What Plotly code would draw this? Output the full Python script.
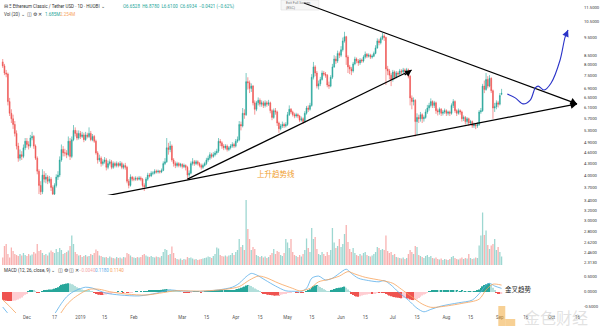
import math
import pandas as pd
import plotly.graph_objects as go

# ---------------- ETC/USDT daily, HUOBI ----------------
START = "2018-11-17"

open_ = [
    8.15,7.95,7.60,7.55,6.35,5.90,5.70,5.50,5.20,4.80,
    4.45,4.55,4.50,4.75,4.95,4.85,4.80,5.05,5.10,4.80,
    4.45,4.10,3.75,3.60,4.00,3.90,3.95,3.85,3.90,3.70,
    3.55,3.75,3.95,4.00,4.40,4.70,4.60,4.60,4.55,4.95,
    4.50,5.00,5.30,5.20,5.05,5.20,5.10,5.15,5.00,5.15,
    5.10,5.20,5.00,5.10,4.95,4.60,4.40,4.45,4.30,4.35,
    4.40,4.20,4.30,4.35,4.20,4.30,4.25,4.30,4.25,4.30,
    4.20,4.25,4.20,3.85,3.75,3.95,3.90,3.90,3.92,3.90,
    3.93,3.90,3.75,3.72,3.90,4.00,3.98,4.05,4.05,4.10,
    4.08,4.10,4.08,4.12,4.30,4.35,4.75,4.70,4.80,4.40,
    4.30,4.25,4.30,4.25,4.28,4.22,4.25,4.20,4.00,4.05,
    4.30,4.35,4.30,4.35,4.30,4.25,4.20,4.25,4.30,4.40,
    4.45,4.55,4.50,4.55,4.60,4.65,4.95,4.90,4.80,4.75,
    4.80,4.70,4.75,4.80,4.85,4.80,4.95,5.00,5.50,5.45,
    5.90,5.85,7.20,7.15,6.90,7.00,6.30,6.05,6.30,6.40,
    6.25,6.30,6.20,6.30,6.25,6.30,6.00,5.75,6.00,5.95,
    5.55,5.35,5.45,5.50,5.45,5.50,5.85,6.05,5.95,5.85,
    5.80,5.85,5.80,5.65,5.70,5.60,5.90,6.10,6.05,6.20,
    7.40,7.90,7.60,7.00,7.10,7.30,7.60,7.55,7.50,7.05,
    7.00,7.40,7.90,8.30,8.20,8.60,8.50,8.80,9.30,9.55,
    8.40,7.90,7.80,7.70,8.05,8.30,8.20,8.10,8.25,8.20,
    8.40,8.55,8.45,8.50,8.40,8.45,8.60,8.90,9.30,9.20,
    9.45,9.60,9.50,7.80,7.70,7.50,7.30,7.65,7.40,7.60,
    7.55,7.70,7.65,7.75,7.70,7.75,7.45,6.50,6.35,6.40,
    5.60,5.75,5.70,5.85,5.70,5.75,5.95,6.10,6.20,6.35,
    6.20,6.30,6.00,5.95,6.05,5.90,5.95,6.00,5.90,5.95,
    5.90,6.20,6.35,6.00,5.90,6.00,5.95,5.70,5.75,5.60,
    5.70,5.55,5.60,5.45,5.50,5.45,5.50,5.95,6.00,7.00,
    6.85,7.30,7.00,7.35,6.80,6.10,6.15,6.30,6.25,6.65,
]
high = [
    8.30,8.05,7.75,7.62,6.50,6.05,5.85,5.62,5.30,4.90,
    4.70,4.65,4.85,5.05,5.05,4.95,5.15,5.25,5.15,4.85,
    4.50,4.15,3.85,4.15,4.10,4.05,4.00,3.98,3.95,3.75,
    3.80,4.02,4.10,4.50,4.85,4.80,4.72,4.68,5.10,5.05,
    5.10,5.48,5.40,5.30,5.30,5.28,5.25,5.22,5.25,5.22,
    5.40,5.28,5.18,5.15,5.00,4.65,4.55,4.50,4.42,4.48,
    4.45,4.38,4.42,4.40,4.36,4.35,4.36,4.34,4.37,4.35,
    4.30,4.32,4.24,3.90,4.02,3.98,3.96,3.97,3.96,3.98,
    3.97,3.93,3.80,3.95,4.06,4.05,4.10,4.10,4.15,4.14,
    4.14,4.13,4.17,4.36,4.45,5.05,4.90,4.95,4.85,4.45,
    4.36,4.35,4.34,4.32,4.31,4.30,4.28,4.24,4.12,4.36,
    4.45,4.40,4.40,4.39,4.34,4.30,4.30,4.35,4.46,4.52,
    4.62,4.60,4.62,4.66,4.72,5.05,5.02,4.95,4.86,4.86,
    4.85,4.80,4.86,4.92,4.90,5.02,5.10,5.62,5.60,6.10,
    6.05,7.60,7.40,7.25,7.12,7.05,6.40,6.38,6.52,6.48,
    6.40,6.38,6.40,6.38,6.42,6.35,6.05,6.08,6.10,6.00,
    5.60,5.52,5.60,5.56,5.58,5.95,6.20,6.10,6.00,5.92,
    5.92,5.90,5.84,5.78,5.75,5.98,6.18,6.20,6.30,7.55,
    8.15,7.98,7.70,7.25,7.42,7.72,7.70,7.65,7.55,7.20,
    7.50,8.05,8.50,8.45,8.75,8.70,9.00,9.50,9.85,9.60,
    8.50,8.00,7.90,8.15,8.42,8.38,8.30,8.35,8.32,8.50,
    8.70,8.62,8.60,8.58,8.55,8.70,9.05,9.45,9.42,9.55,
    9.78,9.70,9.55,7.95,7.80,7.60,7.75,7.72,7.70,7.68,
    7.80,7.78,7.85,7.82,7.85,7.82,7.50,6.60,6.52,6.45,
    5.90,5.85,5.95,5.90,5.82,6.05,6.22,6.30,6.48,6.40,
    6.38,6.35,6.08,6.12,6.10,6.02,6.08,6.05,6.00,6.00,
    6.28,6.45,6.40,6.05,6.08,6.05,6.00,5.82,5.80,5.76,
    5.74,5.66,5.64,5.56,5.55,5.58,6.02,6.10,7.10,7.25,
    7.60,7.45,7.50,7.40,6.85,6.30,6.40,6.38,6.70,6.88,
]
low = [
    7.85,7.50,7.40,6.20,5.80,5.55,5.35,5.10,4.70,4.35,
    4.38,4.40,4.45,4.68,4.75,4.70,4.75,4.98,4.72,4.40,
    4.02,3.55,3.42,3.55,3.82,3.80,3.78,3.80,3.62,3.48,
    3.50,3.70,3.88,3.95,4.35,4.50,4.50,4.45,4.50,4.40,
    4.45,4.95,5.10,4.98,5.00,5.02,5.05,4.92,4.96,5.04,
    5.05,4.95,4.95,4.90,4.55,4.30,4.35,4.22,4.25,4.30,
    4.12,4.15,4.25,4.15,4.16,4.20,4.20,4.20,4.22,4.15,
    4.15,4.14,3.80,3.68,3.72,3.85,3.85,3.86,3.86,3.87,
    3.85,3.70,3.62,3.70,3.86,3.94,3.95,4.00,4.02,4.04,
    4.04,4.04,4.05,4.10,4.26,4.32,4.55,4.62,4.35,4.22,
    4.18,4.20,4.20,4.20,4.17,4.18,4.12,3.90,3.95,4.02,
    4.25,4.24,4.26,4.25,4.20,4.14,4.16,4.22,4.26,4.35,
    4.40,4.44,4.46,4.50,4.55,4.60,4.80,4.72,4.68,4.70,
    4.64,4.65,4.70,4.75,4.74,4.76,4.90,4.95,5.30,5.40,
    5.70,5.80,6.85,6.70,6.75,6.20,5.85,5.98,6.20,6.15,
    6.15,6.10,6.12,6.15,6.18,5.90,5.65,5.70,5.85,5.45,
    5.22,5.30,5.38,5.38,5.40,5.45,5.80,5.88,5.78,5.72,
    5.74,5.72,5.58,5.60,5.52,5.55,5.85,5.95,6.00,6.15,
    7.30,7.45,6.90,6.85,7.00,7.25,7.45,7.38,6.95,6.88,
    6.95,7.32,7.85,8.05,8.10,8.35,8.40,8.70,9.20,8.00,
    7.60,7.55,7.50,7.62,7.98,8.08,7.95,8.00,8.10,8.12,
    8.32,8.35,8.38,8.30,8.32,8.40,8.55,8.85,9.05,9.10,
    9.35,9.30,7.05,7.50,7.30,7.00,7.20,7.30,7.35,7.45,
    7.50,7.55,7.58,7.60,7.62,7.35,6.20,6.05,6.20,5.10,
    5.15,5.55,5.60,5.55,5.60,5.70,5.88,6.00,6.12,6.10,
    6.10,5.88,5.82,5.85,5.80,5.82,5.88,5.80,5.82,5.80,
    5.85,6.10,5.92,5.80,5.85,5.85,5.60,5.62,5.50,5.52,
    5.45,5.48,5.38,5.38,5.34,5.38,5.45,5.88,5.95,6.70,
    6.80,6.90,6.95,6.70,5.70,5.95,6.05,6.12,6.20,6.61,
]
close = [
    7.95,7.60,7.55,6.35,5.90,5.70,5.50,5.20,4.80,4.45,
    4.55,4.50,4.75,4.95,4.85,4.80,5.05,5.10,4.80,4.45,
    4.10,3.75,3.60,4.00,3.90,3.95,3.85,3.90,3.70,3.55,
    3.75,3.95,4.00,4.40,4.70,4.60,4.60,4.55,4.95,4.50,
    5.00,5.30,5.20,5.05,5.20,5.10,5.15,5.00,5.15,5.10,
    5.20,5.00,5.10,4.95,4.60,4.40,4.45,4.30,4.35,4.40,
    4.20,4.30,4.35,4.20,4.30,4.25,4.30,4.25,4.30,4.20,
    4.25,4.20,3.85,3.75,3.95,3.90,3.90,3.92,3.90,3.93,
    3.90,3.75,3.72,3.90,4.00,3.98,4.05,4.05,4.10,4.08,
    4.10,4.08,4.12,4.30,4.35,4.75,4.70,4.80,4.40,4.30,
    4.25,4.30,4.25,4.28,4.22,4.25,4.20,4.00,4.05,4.30,
    4.35,4.30,4.35,4.30,4.25,4.20,4.25,4.30,4.40,4.45,
    4.55,4.50,4.55,4.60,4.65,4.95,4.90,4.80,4.75,4.80,
    4.70,4.75,4.80,4.85,4.80,4.95,5.00,5.50,5.45,5.90,
    5.85,7.20,7.15,6.90,7.00,6.30,6.05,6.30,6.40,6.25,
    6.30,6.20,6.30,6.25,6.30,6.00,5.75,6.00,5.95,5.55,
    5.35,5.45,5.50,5.45,5.50,5.85,6.05,5.95,5.85,5.80,
    5.85,5.80,5.65,5.70,5.60,5.90,6.10,6.05,6.20,7.40,
    7.90,7.60,7.00,7.10,7.30,7.60,7.55,7.50,7.05,7.00,
    7.40,7.90,8.30,8.20,8.60,8.50,8.80,9.30,9.55,8.40,
    7.90,7.80,7.70,8.05,8.30,8.20,8.10,8.25,8.20,8.40,
    8.55,8.45,8.50,8.40,8.45,8.60,8.90,9.30,9.20,9.45,
    9.60,9.50,7.80,7.70,7.50,7.30,7.65,7.40,7.60,7.55,
    7.70,7.65,7.75,7.70,7.75,7.45,6.50,6.35,6.40,5.60,
    5.75,5.70,5.85,5.70,5.75,5.95,6.10,6.20,6.35,6.20,
    6.30,6.00,5.95,6.05,5.90,5.95,6.00,5.90,5.95,5.90,
    6.20,6.35,6.00,5.90,6.00,5.95,5.70,5.75,5.60,5.70,
    5.55,5.60,5.45,5.50,5.45,5.50,5.95,6.00,7.00,6.85,
    7.30,7.00,7.35,6.80,6.10,6.15,6.30,6.25,6.60,6.69,
]
# volume, millions
volume = [
    1.5,3.8,4.2,2.2,1.5,3.5,2.8,2.2,2.0,1.8,
    2.2,1.9,2.4,2.0,1.8,2.2,1.9,2.1,2.6,2.3,
    4.2,2.8,3.0,2.4,2.0,2.2,1.9,2.5,2.9,2.6,
    2.4,3.2,2.6,3.4,3.0,2.2,2.4,2.6,2.9,3.8,
    5.9,4.2,2.6,2.2,1.9,2.0,1.6,1.8,2.0,1.7,
    1.8,2.2,2.0,2.4,3.1,2.8,1.9,1.8,1.6,1.5,
    1.6,1.4,1.7,1.5,1.4,1.3,1.6,1.4,1.5,1.3,
    1.6,1.5,2.4,2.2,1.9,1.6,1.5,1.4,1.6,1.5,
    1.6,2.0,2.2,1.9,1.7,1.6,1.8,1.6,1.5,1.7,
    1.6,1.5,1.8,2.6,3.2,3.0,2.0,2.2,3.7,2.4,
    1.4,1.2,1.1,1.3,1.0,1.2,1.1,1.6,1.4,1.5,
    1.3,1.1,1.2,1.0,1.1,1.2,1.3,1.4,1.5,1.7,
    1.6,1.4,1.8,2.2,3.5,3.3,2.0,1.8,1.7,1.9,
    1.7,1.9,2.0,2.4,2.0,2.6,3.0,5.2,3.6,4.0,
    3.0,13.0,7.2,5.2,3.0,3.6,3.2,2.0,1.8,1.6,
    1.8,1.5,1.7,1.4,1.6,2.0,2.4,3.2,2.2,2.8,
    2.6,2.0,1.8,2.4,5.2,4.5,3.4,5.2,2.6,2.0,
    1.8,1.6,2.0,1.7,2.2,3.0,5.3,3.4,2.6,7.4,
    5.2,5.6,3.2,2.2,2.0,2.6,2.2,1.8,2.6,2.0,
    3.0,7.4,4.5,3.4,3.8,5.2,3.6,4.2,6.2,8.0,
    4.6,3.2,2.6,3.4,2.4,2.0,1.8,2.2,1.9,2.4,
    2.6,2.0,1.8,1.7,1.9,2.2,2.6,3.6,3.4,3.0,
    3.2,3.0,5.9,2.8,2.4,2.6,2.0,2.2,1.6,1.5,
    1.4,1.3,1.5,1.2,1.4,2.2,3.0,2.6,2.2,3.8,
    3.6,2.0,1.8,1.6,1.4,1.8,2.0,1.6,1.8,1.4,
    1.3,1.5,1.2,1.1,1.3,1.0,1.2,1.1,1.0,1.2,
    1.6,1.8,1.4,1.2,1.1,1.3,1.5,1.2,1.4,1.3,
    2.2,1.4,1.2,1.3,1.5,1.4,3.9,5.9,10.5,6.0,
    6.9,4.0,3.2,3.9,4.2,5.2,3.0,3.6,2.6,1.7,
]
# MACD (12, 26, close, 9) histogram, one bar per day
macd_hist = [
    -0.26,-0.28,-0.29,-0.30,-0.30,-0.30,-0.29,-0.28,-0.27,-0.25,
    -0.22,-0.18,-0.13,-0.09,-0.05,0.02,0.05,0.07,0.06,0.03,
    -0.01,-0.02,0.00,0.03,0.05,0.06,0.07,0.08,0.08,0.09,
    0.11,0.13,0.16,0.20,0.24,0.26,0.27,0.28,0.29,0.28,
    0.26,0.24,0.20,0.16,0.13,0.10,0.08,0.07,0.06,0.05,
    0.04,0.03,0.02,-0.02,-0.05,-0.08,-0.09,-0.10,-0.10,-0.09,
    -0.08,-0.06,-0.05,-0.04,-0.03,-0.02,-0.01,0.01,0.00,0.01,
    -0.01,0.00,-0.02,-0.03,-0.02,-0.01,0.00,0.01,0.01,0.00,
    0.01,0.00,0.01,0.02,0.03,0.04,0.05,0.05,0.06,0.06,
    0.07,0.07,0.07,0.08,0.09,0.10,0.09,0.08,0.06,0.05,
    0.04,0.03,0.02,0.01,0.00,-0.01,-0.01,-0.02,-0.02,-0.01,
    0.00,0.01,0.01,0.01,0.00,-0.01,0.00,0.01,0.02,0.02,
    0.03,0.03,0.03,0.04,0.04,0.05,0.05,0.05,0.04,0.04,
    0.04,0.04,0.05,0.06,0.07,0.08,0.10,0.12,0.14,0.16,
    0.18,0.22,0.23,0.22,0.20,0.16,0.12,0.09,0.06,0.03,
    -0.01,-0.04,-0.06,-0.08,-0.09,-0.10,-0.11,-0.12,-0.12,-0.12,
    -0.12,-0.10,-0.08,-0.06,-0.05,-0.03,-0.02,-0.01,0.00,0.00,
    -0.01,-0.01,0.00,-0.01,-0.01,0.00,0.03,0.06,0.09,0.14,
    0.19,0.22,0.23,0.21,0.17,0.13,0.09,0.06,0.03,0.02,
    0.04,0.07,0.10,0.12,0.13,0.14,0.15,0.17,0.18,0.14,
    0.08,0.02,-0.05,-0.10,-0.13,-0.15,-0.16,-0.14,-0.12,-0.10,
    -0.09,-0.08,-0.07,-0.06,-0.06,-0.05,-0.04,-0.03,-0.03,-0.02,
    -0.02,-0.03,-0.06,-0.09,-0.12,-0.14,-0.16,-0.17,-0.18,-0.19,
    -0.20,-0.21,-0.20,-0.19,-0.20,-0.22,-0.25,-0.27,-0.27,-0.26,
    -0.24,-0.20,-0.16,-0.12,-0.08,-0.05,-0.02,0.01,0.03,0.05,
    0.06,0.07,0.07,0.06,0.06,0.05,0.05,0.06,0.06,0.05,
    0.05,0.05,0.04,0.04,0.03,0.03,0.04,0.03,0.03,0.02,
    0.02,0.02,0.01,0.01,0.02,0.04,0.08,0.13,0.19,0.23,
    0.26,0.28,0.29,0.25,0.14,0.06,-0.01,-0.04,-0.05,-0.04,
]
# MACD and signal lines (day offset from START, value)
macd_day = [0,4,7,12,20,26,29,34,37,40,44,48,52,56,60,68,79,89,97,102,114,125,133,137,141,144,147,152,158,164,170,
            172,176,179,183,187,191,195,199,202,206,212,218,221,225,229,235,240,244,248,254,264,272,277,280,282,285,289]
macd_val = [-0.50,-0.78,-0.95,-1.10,-1.15,-1.00,-0.82,-0.38,-0.16,-0.02,0.09,0.16,0.13,0.04,-0.04,-0.10,-0.13,-0.04,0.07,0.04,0.02,0.07,0.16,0.29,0.51,0.62,0.57,0.40,0.20,0.04,0.02,
            0.00,0.12,0.46,0.53,0.40,0.46,0.62,0.76,0.62,0.46,0.38,0.34,0.38,0.23,0.01,-0.27,-0.54,-0.66,-0.58,-0.47,-0.36,-0.27,0.01,0.23,0.29,0.20,0.12]
signal_day = [0,4,8,12,16,22,27,32,37,41,46,50,56,62,72,83,93,100,114,129,137,143,148,152,160,168,
              172,178,183,189,195,200,204,210,220,226,231,237,243,248,254,266,276,280,284,289]
signal_val = [-0.26,-0.48,-0.72,-0.90,-1.02,-1.08,-1.00,-0.82,-0.43,-0.21,-0.02,0.09,0.09,0.01,-0.07,-0.10,-0.02,0.04,0.03,0.09,0.18,0.40,0.53,0.49,0.29,0.12,
              0.04,0.12,0.34,0.42,0.53,0.68,0.60,0.49,0.38,0.29,0.09,-0.16,-0.40,-0.51,-0.49,-0.38,-0.24,0.07,0.26,0.23]

# drawn trend lines: (day offset, price)
support_day, support_px = [20.4, 332.7], [3.23, 6.26]
resist_day, resist_px = [174.5, 332.7], [11.81, 6.26]
inner_day, inner_px = [107.0, 236.9], [3.90, 7.75]
path_day = [292.3, 296.9, 301.5, 305.6, 308.5, 310.2, 313.6, 317.7, 322.9, 325.8, 327.5]
path_px = [6.66, 6.50, 6.26, 6.41, 6.92, 7.00, 6.83, 7.14, 8.25, 9.53, 9.96]

price_ticks = [11.5, 10.5, 9.5, 8.5, 8.0, 7.5, 6.9, 6.5, 6.1, 5.7, 5.3, 4.9, 4.6, 4.3, 4.0,
               3.7, 3.4, 3.2, 3.0, 2.8, 2.62, 2.46, 2.313]
date_ticks = ["2018-12-01", "2018-12-17", "2019-01-01", "2019-01-15", "2019-02-01", "2019-03-01",
              "2019-03-15", "2019-04-01", "2019-04-15", "2019-05-01", "2019-05-15", "2019-06-01",
              "2019-06-15", "2019-07-01", "2019-07-15", "2019-08-01", "2019-08-15", "2019-09-01",
              "2019-09-16", "2019-10-01", "2019-10-16"]
date_labels = ["Dec", "17", "2019", "15", "Feb", "Mar", "15", "Apr", "15", "May", "15", "Jun",
               "15", "Jul", "15", "Aug", "15", "Sep", "16", "Oct", "16"]

for arr in (open_, high, low, close, volume, macd_hist):
    assert len(arr) == len(close), len(arr)

UP, DN = "#26a69a", "#ef5350"
base = pd.Timestamp(START)
dates = pd.date_range(START, periods=len(close), freq="D")


def day(d):
    return base + pd.Timedelta(days=d)


W, H = 600, 328
ML, MR, MT, MB = 0, 15, 0, 15
PW, PH = W - ML - MR, H - MT - MB


def px(x, y):
    """plot-area pixel -> paper coordinates"""
    return x / PW, 1 - y / PH


fig = go.Figure()

# volume (overlay at bottom of price pane)
vol_col = ["rgba(38,166,154,0.45)" if c >= o else "rgba(239,83,80,0.45)" for o, c in zip(open_, close)]
fig.add_trace(go.Bar(x=dates, y=volume, marker=dict(color=vol_col, line=dict(width=0)),
                     width=0.75 * 86400000, yaxis="y2", hoverinfo="skip", showlegend=False))

fig.add_trace(go.Candlestick(
    x=dates, open=open_, high=high, low=low, close=close,
    increasing=dict(line=dict(color=UP, width=0.6), fillcolor=UP),
    decreasing=dict(line=dict(color=DN, width=0.6), fillcolor=DN),
    whiskerwidth=0, yaxis="y", showlegend=False))

# MACD pane
hist_col = []
for i, v in enumerate(macd_hist):
    prev = macd_hist[i - 1] if i else v
    if v >= 0:
        hist_col.append("#26a69a" if v >= prev else "#b2dfdb")
    else:
        hist_col.append("#ef5350" if v <= prev else "#ffcdd2")
fig.add_trace(go.Bar(x=dates, y=macd_hist, marker=dict(color=hist_col, line=dict(width=0)),
                     width=0.75 * 86400000, yaxis="y3", showlegend=False))
fig.add_trace(go.Scatter(x=[day(d) for d in macd_day], y=macd_val, mode="lines", yaxis="y3",
                         line=dict(color="#5aaeea", width=0.8, shape="spline", smoothing=0.8),
                         showlegend=False))
fig.add_trace(go.Scatter(x=[day(d) for d in signal_day], y=signal_val, mode="lines", yaxis="y3",
                         line=dict(color="#f7a35c", width=0.8, shape="spline", smoothing=0.8),
                         showlegend=False))

# trend lines
for dd, pp in ((support_day, support_px), (resist_day, resist_px), (inner_day, inner_px)):
    fig.add_trace(go.Scatter(x=[day(d) for d in dd], y=pp, mode="lines", yaxis="y",
                             line=dict(color="black", width=1.2), showlegend=False))
fig.add_trace(go.Scatter(x=[day(d) for d in path_day], y=path_px, mode="lines", yaxis="y",
                         line=dict(color="#2a33c8", width=1.1, shape="spline", smoothing=1.0),
                         showlegend=False))

annotations = []


def arrow(d0, p0, d1, p1, color):
    annotations.append(dict(x=day(d1), y=math.log10(p1), ax=day(d0), ay=math.log10(p0),
                            xref="x", yref="y", axref="x", ayref="y", text="", showarrow=True,
                            arrowhead=2, arrowsize=1.1, arrowwidth=1.2, arrowcolor=color))


arrow(330.0, 6.21, support_day[1], support_px[1], "black")
arrow(330.0, 6.35, resist_day[1], resist_px[1], "black")
arrow(232.0, 7.45, inner_day[1], inner_px[1], "black")
arrow(path_day[-2], path_px[-2], path_day[-1], path_px[-1], "#2a33c8")

annotations.append(dict(x=day(158.3), y=math.log10(4.03), xref="x", yref="y", text="上升趋势线",
                        showarrow=False, font=dict(size=7.5, color="#f0a030", family="Noto Sans CJK SC")))
annotations.append(dict(x=day(298.6), y=0.1, xref="x", yref="y3", text="金叉趋势", showarrow=False,
                        font=dict(size=6.5, color="#222", family="Noto Sans CJK SC")))


def label(x, y, text, color="#333", size=4.5):
    xx, yy = px(x, y)
    annotations.append(dict(x=xx, y=yy, xref="paper", yref="paper", text=text, showarrow=False,
                            xanchor="left", yanchor="middle",
                            font=dict(size=size, color=color, family="Roboto")))


label(2, 6, "⊟ Ξ Ethereum Classic / Tether USD · 1D · HUOBI ⌄")
label(121, 6, "O6.6528  H6.8780  L6.6100  C6.6934  −0.0421 (−0.62%)", UP)
label(2, 14, "Vol (20) ⌄  ◫ ⚙ ✕")
label(43, 14, "1.685M", UP)
label(58, 14, "2.254M", "#f7a35c")
label(2, 270, "MACD (12, 26, close, 9) ⌄  ◫ ⚙ ◫ ✕")
label(77, 270, "−0.0040", "#f4a7a7")
label(93, 270, "0.1180", "#5aaeea")
label(108, 270, "0.1140", "#f7a35c")
label(285, 3, "Exit Full Screen", "#777", 3.6)
label(285, 7.5, "(ESC)", "#777", 3.6)

# watermark
wx, wy = px(524, 317)
annotations.append(dict(x=wx, y=wy, xref="paper", yref="paper", text="金色财经", showarrow=False,
                        xanchor="left", yanchor="middle",
                        font=dict(size=16, color="rgba(190,190,190,0.45)", family="Noto Sans CJK SC")))

shapes = []
bx0, by0 = px(282, 0)
bx1, by1 = px(320, 10)
shapes.append(dict(type="rect", xref="paper", yref="paper", x0=bx0, y0=by1, x1=bx1, y1=by0,
                   fillcolor="#f6f6f6", line=dict(color="#dddddd", width=0.6), layer="below"))
for (a, b, c, d) in ((500, 306, 507, 326), (507, 319, 517, 326)):
    x0, y0 = px(a, b)
    x1, y1 = px(c, d)
    shapes.append(dict(type="rect", xref="paper", yref="paper", x0=x0, y0=y1, x1=x1, y1=y0,
                       fillcolor="rgba(240,170,60,0.55)", line=dict(width=0)))

P_BOT = (PH - 265) / PH
M_TOP = (PH - 266) / PH
tick_font = dict(size=4.2, color="#333", family="Roboto")

fig.update_layout(
    width=W, height=H,
    margin=dict(l=ML, r=MR, t=MT, b=MB),
    paper_bgcolor="white", plot_bgcolor="white",
    barmode="overlay",
    showlegend=False,
    annotations=annotations,
    shapes=shapes,
    xaxis=dict(type="date", domain=[0, 1], anchor="y3",
               range=["2018-11-15 10:00", "2019-10-19 04:00"],
               tickvals=date_ticks, ticktext=date_labels, tickangle=0,
               tickfont=dict(size=4.5, color="#555", family="Roboto"),
               showgrid=False, zeroline=False, showline=False, ticks="",
               rangeslider=dict(visible=False)),
    yaxis=dict(type="log", domain=[P_BOT, 1], anchor="x", side="right",
               range=[math.log10(2.273), math.log10(12.03)],
               tickvals=price_ticks, ticktext=[f"{v:.4f}" for v in price_ticks],
               tickfont=tick_font, showgrid=False, zeroline=False, ticks=""),
    yaxis2=dict(domain=[P_BOT, P_BOT + 70 / PH], anchor="x", range=[0, 14], visible=False),
    yaxis3=dict(domain=[0, M_TOP], anchor="x", side="right", range=[-0.7, 0.8667],
                tickvals=[0.5, 0, -0.5], ticktext=["0.5000", "0.0000", "-0.5000"],
                tickfont=tick_font, showgrid=False, zeroline=False, ticks=""),
)

fig.write_html("out.html")
